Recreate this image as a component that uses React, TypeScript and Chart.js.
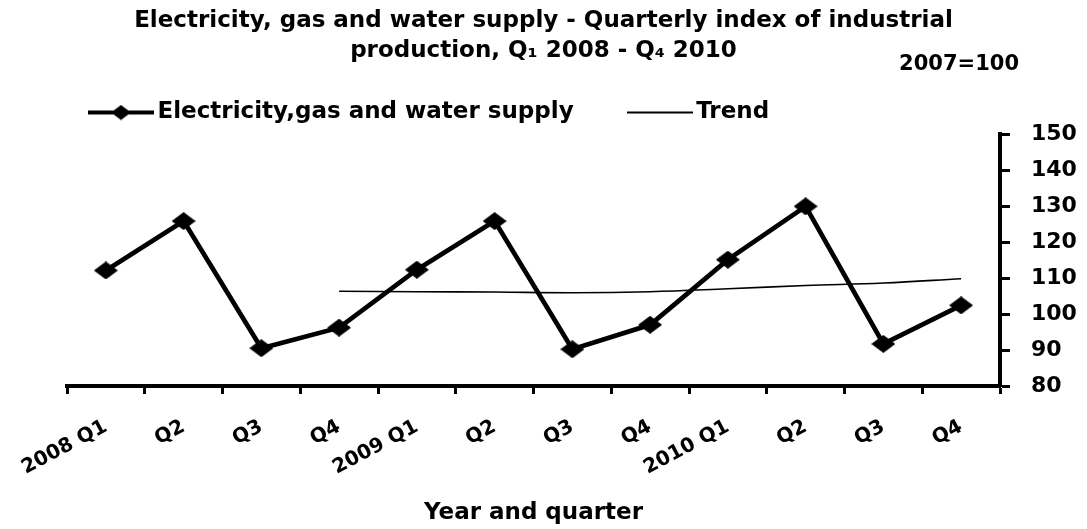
import React, { useEffect, useRef } from 'react';
import { Chart, registerables } from 'chart.js';

Chart.register(...registerables);

const categories = ['2008 Q1', 'Q2', 'Q3', 'Q4', '2009 Q1', 'Q2', 'Q3', 'Q4', '2010 Q1', 'Q2', 'Q3', 'Q4'];
const supplyValues = [112.1, 125.8, 90.5, 96.2, 112.3, 125.8, 90.2, 97.0, 115.1, 129.9, 91.7, 102.4];
const trendValues = [null, null, null, 106.3, 106.2, 106.1, 105.9, 106.2, 107.0, 107.9, 108.6, 109.8];
const titleLines = ['Electricity, gas and water supply - Quarterly index of industrial', 'production, Q\u2081 2008 - Q\u2084 2010'];
const baseNote = '2007=100';
const seriesLabel = 'Electricity,gas and water supply';
const trendLabel = 'Trend';
const xAxisTitle = 'Year and quarter';
const yMin = 80;
const yMax = 150;
const yStep = 10;

const FONT = '"DejaVu Sans", "Open Sans", sans-serif';

function makeDiamond(w: number, h: number): HTMLCanvasElement {
  const c = document.createElement('canvas');
  c.width = w;
  c.height = h;
  const g = c.getContext('2d')!;
  g.fillStyle = '#000';
  g.beginPath();
  g.moveTo(w / 2, 0);
  g.lineTo(w, h / 2);
  g.lineTo(w / 2, h);
  g.lineTo(0, h / 2);
  g.closePath();
  g.fill();
  return c;
}

function makeLegendSample(w: number, h: number, lineW: number, diamond: boolean): HTMLCanvasElement {
  const c = document.createElement('canvas');
  c.width = w;
  c.height = h;
  const g = c.getContext('2d')!;
  g.fillStyle = '#000';
  g.fillRect(0, h / 2 - lineW / 2, w, lineW);
  if (diamond) {
    const dw = 20;
    const dh = 15;
    g.beginPath();
    g.moveTo(w / 2, h / 2 - dh / 2);
    g.lineTo(w / 2 + dw / 2, h / 2);
    g.lineTo(w / 2, h / 2 + dh / 2);
    g.lineTo(w / 2 - dw / 2, h / 2);
    g.closePath();
    g.fill();
  }
  return c;
}

export default function App() {
  const canvasRef = useRef<HTMLCanvasElement | null>(null);

  useEffect(() => {
    const canvas = canvasRef.current;
    if (!canvas) return;
    const diamond = makeDiamond(24, 18);
    const seriesSample = makeLegendSample(66, 16, 4, true);
    const trendSample = makeLegendSample(66, 4, 2, false);

    const notePlugin = {
      id: 'baseNote',
      afterDraw(chart: any) {
        const { ctx, chartArea, legend } = chart;
        ctx.save();
        ctx.font = `bold 21px ${FONT}`;
        ctx.fillStyle = '#000';
        ctx.textAlign = 'right';
        ctx.textBaseline = 'middle';
        ctx.fillText(baseNote, chartArea.right + 19, legend.top - 7.5);
        ctx.restore();
      },
    };

    const chart = new Chart(canvas, {
      type: 'line',
      data: {
        labels: categories,
        datasets: [
          {
            label: seriesLabel,
            data: supplyValues,
            borderColor: '#000',
            backgroundColor: '#000',
            borderWidth: 4.7,
            pointStyle: diamond as any,
            pointRadius: 10,
            tension: 0,
          },
          {
            label: trendLabel,
            data: trendValues as any,
            borderColor: '#000',
            backgroundColor: '#000',
            borderWidth: 1.6,
            pointRadius: 0,
            tension: 0.4,
          },
        ],
      },
      plugins: [notePlugin],
      options: {
        responsive: false,
        animation: false,
        events: [],
        layout: { padding: 0 },
        plugins: {
          title: {
            display: true,
            text: titleLines,
            color: '#000',
            font: { family: FONT, size: 23, weight: 'bold', lineHeight: '30px' as any },
            padding: { top: 0, bottom: 5.5 },
          },
          legend: {
            display: true,
            position: 'top',
            align: 'start',
            fullSize: false,
            labels: {
              usePointStyle: true,
              pointStyleWidth: 50,
              padding: 29,
              color: '#000',
              font: { family: FONT, size: 23, weight: 'bold' },
              generateLabels: (ch: any) =>
                ch.data.datasets.map((ds: any, i: number) => ({
                  text: i === 0 ? ds.label + '    ' : ds.label,
                  pointStyle: i === 0 ? seriesSample : trendSample,
                  fillStyle: '#000',
                  strokeStyle: '#000',
                  lineWidth: 0,
                  hidden: false,
                  datasetIndex: i,
                  fontColor: '#000',
                })),
            },
          },
          tooltip: { enabled: false },
        },
        scales: {
          x: {
            type: 'category',
            offset: true,
            afterFit: (scale: any) => {
              scale.paddingLeft = 59;
              scale.height = 141;
            },
            grid: {
              display: true,
              offset: true,
              drawOnChartArea: false,
              drawTicks: true,
              tickLength: 8,
              tickWidth: 3,
              tickColor: '#000',
            },
            border: { display: true, color: '#000', width: 4 },
            ticks: {
              autoSkip: false,
              maxRotation: 28,
              minRotation: 28,
              padding: 21,
              color: '#000',
              font: { family: FONT, size: 20, weight: 'bold' },
            },
            title: {
              display: true,
              text: xAxisTitle,
              color: '#000',
              font: { family: FONT, size: 23, weight: 'bold' },
              padding: { top: 0, bottom: 0 },
            },
          },
          y: {
            position: 'right',
            min: yMin,
            max: yMax,
            afterFit: (scale: any) => {
              scale.width = 79;
              scale.paddingTop = 132;
            },
            grid: {
              display: true,
              drawOnChartArea: false,
              drawTicks: true,
              tickLength: 10,
              tickWidth: 3,
              tickColor: '#000',
            },
            border: { display: true, color: '#000', width: 4 },
            ticks: {
              stepSize: yStep,
              padding: 21,
              color: '#000',
              font: { family: FONT, size: 22, weight: 'bold' },
            },
          },
        },
      },
    });
    return () => chart.destroy();
  }, []);

  return (
    <div style={{ position: 'absolute', left: 8, top: 2, width: 1071, height: 525, background: '#fff' }}>
      <canvas ref={canvasRef} width={1071} height={525} style={{ width: 1071, height: 525, display: 'block' }} />
    </div>
  );
}
